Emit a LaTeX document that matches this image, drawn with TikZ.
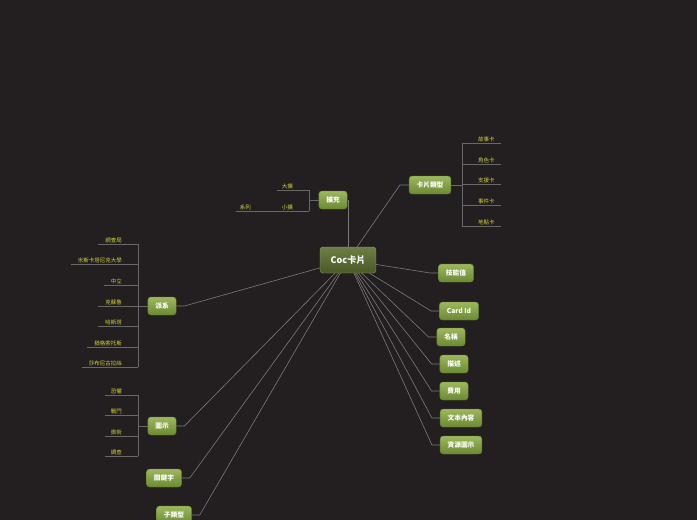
\documentclass[tikz,border=0pt]{standalone}
\usepackage{fontspec}
\setmainfont{Noto Sans CJK TC}
\usetikzlibrary{backgrounds}
\definecolor{bgdark}{HTML}{231F20}
\definecolor{topichi}{HTML}{9DB85E}
\definecolor{topiclo}{HTML}{6A8A32}
\definecolor{topicedge}{HTML}{5E7A2C}
\definecolor{centralhi}{HTML}{6E7F44}
\definecolor{centrallo}{HTML}{4A5927}
\definecolor{centraledge}{HTML}{8E9C70}
\definecolor{linec}{HTML}{7A7A7A}
\definecolor{leafc}{HTML}{D2D23A}
\tikzset{
  topic/.style={rounded corners=3pt, draw=topicedge, line width=0.4pt,
    top color=topichi, bottom color=topiclo, text=white,
    font=\bfseries\fontsize{6.7}{7}\selectfont,
    minimum height=18pt, inner xsep=7.5pt, inner ysep=2pt},
  central/.style={topic, draw=centraledge, top color=centralhi,
    bottom color=centrallo, font=\bfseries\fontsize{9}{10}\selectfont,
    minimum height=26pt, minimum width=56pt},
  leaf/.style={text=leafc, font=\fontsize{5.5}{6}\selectfont, inner sep=1pt},
  branch/.style={draw=linec, line width=0.6pt},
  bar/.style={draw=linec!85!black, line width=0.6pt}
}

\begin{document}
\begin{tikzpicture}[x=1pt,y=-1pt]
  \useasboundingbox (0,0) rectangle (697,520);

  % Central topic and main topics.
  \node[central] (zhu) at (348,260) {Coc卡片};
  \node[topic] (kuochong) at (333,200) {擴充};
  \node[topic] (leixing) at (430,185) {卡片類型};
  \node[topic] (jineng) at (456,273) {技能值};
  \node[topic] (cardid) at (459,311) {Card Id};
  \node[topic] (mingcheng) at (451,337) {名稱};
  \node[topic] (miaoshu) at (454,364) {描述};
  \node[topic] (feiyong) at (454,391) {費用};
  \node[topic] (wenben) at (461,418) {文本內容};
  \node[topic] (ziyuan) at (461,445) {資源圖示};
  \node[topic] (paixi) at (162,306) {派系};
  \node[topic] (tushi) at (162,426) {圖示};
  \node[topic] (guanjian) at (164,478) {關鍵字};
  \node[topic] (zilei) at (174,515) {子類型};

  % Bars of the sub-topic brackets.
  \coordinate (lxbar) at (462,0);
  \coordinate (kcbar) at (309,0);
  \coordinate (pxbar) at (138,0);
  \coordinate (tsbar) at (138,0);

  % Card types.
  \foreach \t/\y [count=\i] in {故事卡/143, 角色卡/164, 支援卡/184,
                                事件卡/205, 地點卡/226} {
    \node[leaf, anchor=south west] (lx\i) at (477,\y) {\t};
    \draw[bar] (lx\i.south west -| lxbar) -- ([xshift=5pt]lx\i.south east);
  }
  \draw[bar] (lx1.south -| lxbar) -- (lx5.south -| lxbar);
  \draw[bar] (leixing.east) -- (leixing.east -| lxbar);

  % Expansions.
  \node[leaf, anchor=south east] (kc1) at (294,190) {大擴};
  \node[leaf, anchor=south east] (kc2) at (294,211) {小擴};
  \node[leaf, anchor=south east] (kc3) at (252,211) {系列};
  \draw[bar] ([xshift=-4pt]kc1.south west) -- (kc1.south -| kcbar);
  \draw[bar] ([xshift=-4pt]kc2.south west) -- (kc2.south -| kcbar);
  \draw[bar] ([xshift=-3pt]kc3.south west) -- ([xshift=-4pt]kc2.south west);
  \draw[bar] (kc1.south -| kcbar) -- (kc2.south -| kcbar);
  \draw[bar] (kuochong.west) -- (kuochong.west -| kcbar);

  % Factions.
  \foreach \t/\y [count=\i] in {調查局/244, 米斯卡塔尼克大學/264.5, 中立/285,
                                克蘇魯/306, 哈斯塔/326, 猶格索托斯/347,
                                莎布尼古拉絲/367} {
    \node[leaf, anchor=south east] (px\i) at (123,\y) {\t};
    \draw[bar] ([xshift=-6pt]px\i.south west) -- (px\i.south -| pxbar);
  }
  \draw[bar] (px1.south -| pxbar) -- (px7.south -| pxbar);
  \draw[bar] (paixi.west) -- (paixi.west -| pxbar);

  % Icons.
  \foreach \t/\y [count=\i] in {恐懼/395, 戰鬥/415, 奧術/436, 調查/456} {
    \node[leaf, anchor=south east] (ts\i) at (123,\y) {\t};
    \draw[bar] ([xshift=-5pt]ts\i.south west) -- (ts\i.south -| tsbar);
  }
  \draw[bar] (ts1.south -| tsbar) -- (ts4.south -| tsbar);
  \draw[bar] (tushi.west) -- (tushi.west -| tsbar);

  % Connectors from the central topic, behind the nodes.
  \begin{scope}[on background layer]
    \fill[bgdark] (0,0) rectangle (697,520);
    \draw[branch] (zhu.center) -- (zhu.center |- kuochong.east);
    \draw[branch] (zhu.center) -- ([xshift=-9pt]leixing.west) -- (leixing.west);
    \foreach \n in {jineng, cardid, mingcheng, miaoshu, feiyong, wenben, ziyuan} {
      \draw[branch] (zhu.center) -- ([xshift=-8pt]\n.west) -- (\n.west);
    }
    \foreach \n in {paixi, tushi, guanjian, zilei} {
      \draw[branch] (zhu.center) -- ([xshift=8pt]\n.east) -- (\n.east);
    }
  \end{scope}
\end{tikzpicture}
\end{document}
